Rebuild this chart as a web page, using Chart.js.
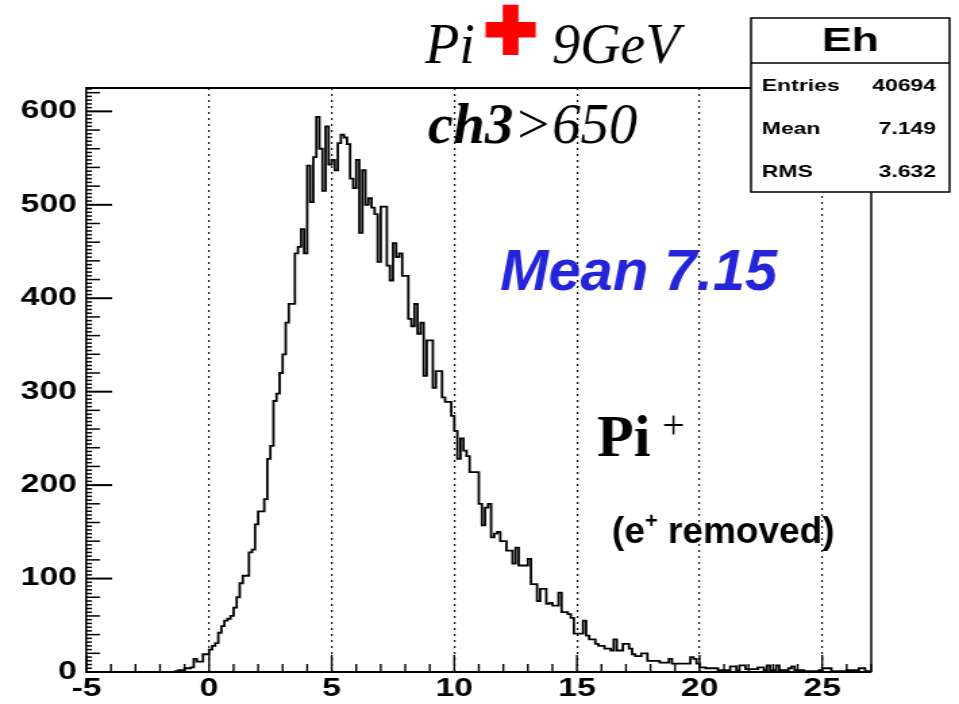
<!DOCTYPE html>
<html><head><meta charset="utf-8">
<script src="https://cdn.jsdelivr.net/npm/chart.js@4.4.1/dist/chart.umd.min.js"></script>
<style>
html,body{margin:0;padding:0;background:#fff;overflow:hidden;width:959px;height:704px;}
#wrap{position:absolute;left:0;top:0;width:710px;height:704px;transform:scaleX(1.350704);transform-origin:0 0;}
</style></head><body>
<div id="wrap"><canvas id="c"></canvas></div>
<script>
// ---- data ----
const binLow = -5;
const binWidth = 0.125;
const counts = [
0,0,0,0,0,0,0,0,0,0, 0,0,0,0,0,0,0,0,0,0, 0,0,0,0,0,0,0,0,
0,1,2,2,4,4,5,14,11,11,19,19,
24,28,31,42,49,55,57,60,69,80,
95,103,103,128,131,158,172,172,185,228,
242,290,298,320,340,374,394,394,448,455,
474,448,542,503,551,594,560,515,584,543,
548,537,566,575,572,565,528,518,548,470,
537,500,507,497,490,439,498,498,435,419,
459,444,448,424,424,378,370,394,362,374,
317,355,355,304,322,322,294,289,289,274,
258,228,250,237,231,214,214,214,180,157,
176,180,144,148,150,140,140,130,130,116,
133,114,114,114,121,94,94,76,89,89,
73,74,71,71,85,64,64,62,58,41,
41,41,55,39,35,35,30,28,28,25,
25,23,35,23,23,30,30,25,19,17,
17,20,20,12,12,12,12,10,10,10,
14,9,9,9,9,9,9,16,14,9,
5,5,4,4,4,4,2,2,2,2,
6,6,2,7,7,3,3,3,3,5,
5,2,7,2,2,7,2,2,2,4,
6,2,2,2,1,1,1,1,1,2,
4,4,4,1,1,1,1,1,2,2,
2,2,4,4,1,1
];
const xTickValues = [-5, 0, 5, 10, 15, 20, 25];
const yTickValues = [0, 100, 200, 300, 400, 500, 600];
const statsTitle = 'Eh';
const statsLabels = ['Entries', 'Mean', 'RMS'];
const statsValues = ['40694', '7.149', '3.632'];

// ---- build ----
const S = 959 / 710;
const points = counts.map((c, i) => ({ x: binLow + i * binWidth, y: c }));
points.push({ x: binLow + counts.length * binWidth, y: counts[counts.length - 1] });

function drawRuns(ctx, x, y, runs) {
  let cx = x;
  for (const r of runs) {
    ctx.font = r.font;
    ctx.fillStyle = r.color || '#000';
    ctx.fillText(r.text, cx, y + (r.dy || 0));
    cx += ctx.measureText(r.text).width + (r.gap || 0);
  }
}

const deco = {
  id: 'deco',
  afterDraw(chart) {
    const ctx = chart.ctx, a = chart.chartArea, xs = chart.scales.x, ys = chart.scales.y;
    ctx.save();
    ctx.strokeStyle = '#000';
    // y ticks (inward)
    for (let v = 0; v <= ys.max; v += 4) {
      const y = ys.getPixelForValue(v);
      const major = v % 100 === 0, mid = v % 20 === 0;
      const len = major ? 19 : (mid ? 10 : 4);
      ctx.lineWidth = major ? 2 : 1.5;
      ctx.beginPath(); ctx.moveTo(a.left, y); ctx.lineTo(a.left + len, y); ctx.stroke();
    }
    // x ticks (inward)
    ctx.lineWidth = 1.4;
    for (let v = Math.ceil(xs.min); v <= xs.max; v += 1) {
      const x = xs.getPixelForValue(v);
      const len = v % 5 === 0 ? 17 : 8;
      ctx.beginPath(); ctx.moveTo(x, a.bottom); ctx.lineTo(x, a.bottom - len); ctx.stroke();
    }
    // frame top + right
    ctx.lineWidth = 2;
    ctx.beginPath(); ctx.moveTo(a.left, a.top); ctx.lineTo(a.right, a.top); ctx.stroke();
    ctx.lineWidth = 1.5;
    ctx.beginPath(); ctx.moveTo(a.right, a.top); ctx.lineTo(a.right, a.bottom); ctx.stroke();

    // stats box
    const bx = 556, by = 18, bw = 147, bh = 174, div = 63;
    ctx.fillStyle = '#fff';
    ctx.fillRect(bx, by, bw, bh);
    ctx.lineWidth = 1.5;
    ctx.strokeRect(bx, by, bw, bh);
    ctx.beginPath(); ctx.moveTo(bx, div); ctx.lineTo(bx + bw, div); ctx.stroke();
    ctx.fillStyle = '#000';
    ctx.textBaseline = 'middle';
    ctx.textAlign = 'center';
    ctx.font = 'bold 33px "Liberation Sans", Arial, sans-serif';
    ctx.fillText(statsTitle, bx + bw / 2, 42);
    ctx.font = 'bold 17px "Liberation Sans", Arial, sans-serif';
    const rowH = (by + bh - div) / 3;
    statsLabels.forEach((lab, i) => {
      const yy = div + rowH * (i + 0.5) + 1.5;
      ctx.textAlign = 'left'; ctx.fillText(lab, bx + 8, yy);
      ctx.textAlign = 'right'; ctx.fillText(statsValues[i], bx + bw - 10, yy);
    });

    // overlay annotations (unstretched)
    ctx.scale(1 / S, 1);
    ctx.textBaseline = 'alphabetic';
    ctx.textAlign = 'left';
    const serifI = 'italic 56px "Liberation Serif", "Times New Roman", serif';
    drawRuns(ctx, 425, 63, [{ text: 'Pi', font: serifI }]);
    drawRuns(ctx, 552, 63, [{ text: '9GeV', font: serifI }]);
    // red plus
    ctx.save();
    ctx.font = 'bold 88px "Liberation Sans", Arial, sans-serif';
    ctx.textAlign = 'center';
    ctx.fillStyle = '#ff0000'; ctx.strokeStyle = '#ff0000'; ctx.lineWidth = 6; ctx.lineJoin = 'miter';
    ctx.fillText('+', 510.5, 59); ctx.strokeText('+', 510.5, 59);
    ctx.restore();
    drawRuns(ctx, 428, 143, [
      { text: 'ch3', font: 'italic bold 57px "Liberation Serif", "Times New Roman", serif' },
      { text: '>650', font: 'italic 57px "Liberation Serif", "Times New Roman", serif' }
    ]);
    drawRuns(ctx, 500, 290, [{ text: 'Mean 7.15', font: 'italic bold 58px "Liberation Sans", Arial, sans-serif', color: 'rgb(36,36,216)' }]);
    drawRuns(ctx, 597, 456, [
      { text: 'Pi', font: 'bold 60px "Liberation Serif", "Times New Roman", serif', gap: 12 },
      { text: '+', font: '40px "Liberation Serif", "Times New Roman", serif', dy: -18 }
    ]);
    drawRuns(ctx, 612, 543, [
      { text: '(e', font: 'bold 37px "Liberation Sans", Arial, sans-serif' },
      { text: '+', font: 'bold 22px "Liberation Sans", Arial, sans-serif', dy: -15 },
      { text: ' removed)', font: 'bold 37px "Liberation Sans", Arial, sans-serif' }
    ]);
    ctx.restore();
  }
};

const tickFont = { family: '"Liberation Sans", Arial, sans-serif', size: 25, weight: 'bold' };

new Chart(document.getElementById('c'), {
  type: 'line',
  data: {
    datasets: [{
      data: points,
      stepped: 'before',
      borderColor: '#000',
      borderWidth: 1.8,
      pointRadius: 0,
      fill: false,
      tension: 0
    }]
  },
  options: {
    responsive: true,
    maintainAspectRatio: false,
    animation: false,
    events: [],
    layout: { padding: { left: 0, right: 65, top: 88, bottom: 0 } },
    plugins: { legend: { display: false }, tooltip: { enabled: false }, title: { display: false } },
    scales: {
      x: {
        type: 'linear', min: -5, max: 27,
        afterBuildTicks: s => { s.ticks = xTickValues.map(v => ({ value: v })); },
        afterFit: s => { s.height = 32; },
        ticks: { font: tickFont, color: '#000', padding: 2, maxRotation: 0, autoSkip: false },
        grid: {
          display: true, drawTicks: false, lineWidth: 1.2,
          color: c => (c.tick && c.tick.value === -5) ? 'rgba(0,0,0,0)' : '#111'
        },
        border: { display: true, color: '#000', width: 2, dash: [2, 4] }
      },
      y: {
        type: 'linear', min: 0, max: 625,
        afterBuildTicks: s => { s.ticks = yTickValues.map(v => ({ value: v })); },
        afterFit: s => { s.width = 64; },
        ticks: { font: tickFont, color: '#000', padding: 7, autoSkip: false },
        grid: { display: false, drawTicks: false },
        border: { display: true, color: '#000', width: 1.5 }
      }
    }
  },
  plugins: [deco]
});
</script>
</body></html>
